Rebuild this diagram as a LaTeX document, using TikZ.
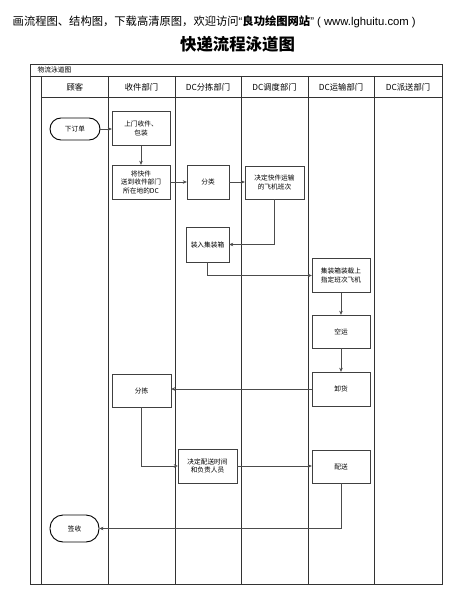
\documentclass[tikz,border=0pt]{standalone}
\usepackage{fontspec}
\setmainfont{Noto Sans CJK SC}
\newfontfamily\latinfont{Liberation Sans}
\usetikzlibrary{arrows.meta}

\begin{document}
\begin{tikzpicture}[x=1pt,y=-1pt,
  box/.style={draw=black!75,fill=white,minimum width=58pt,minimum height=34pt,inner sep=1pt,align=center,font=\fontsize{6.7}{8.5}\selectfont},
  term/.style={draw=black,line width=0.9pt,rounded corners=#1,minimum width=50pt,inner sep=1pt,font=\fontsize{6.7}{8.5}\selectfont},
  flow/.style={draw=black!70,-{Stealth[length=4pt,width=3.5pt]}},
  lane/.style={draw=black!80,line width=0.6pt}]
\useasboundingbox (0,0) rectangle (453,596);
\node[anchor=west,inner sep=0pt,font=\fontsize{11.3}{13}\selectfont] (caption) at (12.5,22) {画流程图、结构图，下载高清原图，欢迎访问{\latinfont “}\textbf{良功绘图网站}{\latinfont ” ( www.lghuitu.com )}};
\node[font=\fontsize{16.4}{18}\selectfont\bfseries] (title) at (237.5,44) {快递流程泳道图};
\draw[lane] (30,64) rectangle (442,584);
\draw[lane] (30,76) -- (442,76);
\draw[lane] (41.5,76) -- (41.5,584);
\draw[lane] (41.5,97) -- (442,97);
\foreach \x in {108,175,241,308,374}
  \draw[lane] (\x,76) -- (\x,584);
\node[anchor=west,font=\fontsize{6.8}{8}\selectfont] (pool) at (34,70) {物流泳道图};
\foreach \x/\t [count=\i] in {74.8/顾客,141.5/收件部门,208/DC分拣部门,274.5/DC调度部门,341/DC运输部门,408/DC派送部门}
  \node[font=\fontsize{8.3}{10}\selectfont] (head\i) at (\x,87) {\t};

\node[term=11pt,minimum height=22pt] (order) at (75,129) {下订单};
\node[box] (pickup) at (141,128.5) {上门收件、\\包装};
\node[box] (todc) at (141,182) {将快件\\送到收件部门\\所在地的DC};
\node[box,minimum width=42pt] (classify) at (208,182) {分类};
\node[box,minimum width=59pt,minimum height=33pt] (flight) at (274.5,182.5) {决定快件运输\\的飞机班次};
\node[box,minimum width=43pt,minimum height=35pt] (pack) at (207.5,244.5) {装入集装箱};
\node[box] (load) at (341,275.5) {集装箱装载上\\指定班次飞机};
\node[box,minimum height=33pt] (air) at (341,331.5) {空运};
\node[box] (unload) at (341,389) {卸货};
\node[box,minimum width=59pt,minimum height=33pt] (pick) at (141.5,390.5) {分拣};
\node[box,minimum width=59pt] (plan) at (207.5,466) {决定配送时间\\和负责人员};
\node[box,minimum height=33pt] (deliver) at (341,466.5) {配送};
\node[term=13pt,minimum height=27pt,minimum width=49pt] (sign) at (74.5,528.5) {签收};

\draw[flow] (order.east) -- (order.east -| pickup.west);
\draw[flow] (pickup) -- (todc);
\draw[flow] (todc) -- (classify);
\draw[flow] (classify) -- (classify -| flight.west);
\draw[flow] (flight.south) |- (pack.east);
\draw[flow] (pack.south) |- (load.west);
\draw[flow] (load) -- (air);
\draw[flow] (air) -- (unload);
\draw[flow] (unload.west) -- (unload.west -| pick.east);
\draw[flow] (pick.south) |- (plan.west);
\draw[flow] (plan) -- (plan -| deliver.west);
\draw[flow] (deliver.south) |- (sign.east);
\end{tikzpicture}
\end{document}
